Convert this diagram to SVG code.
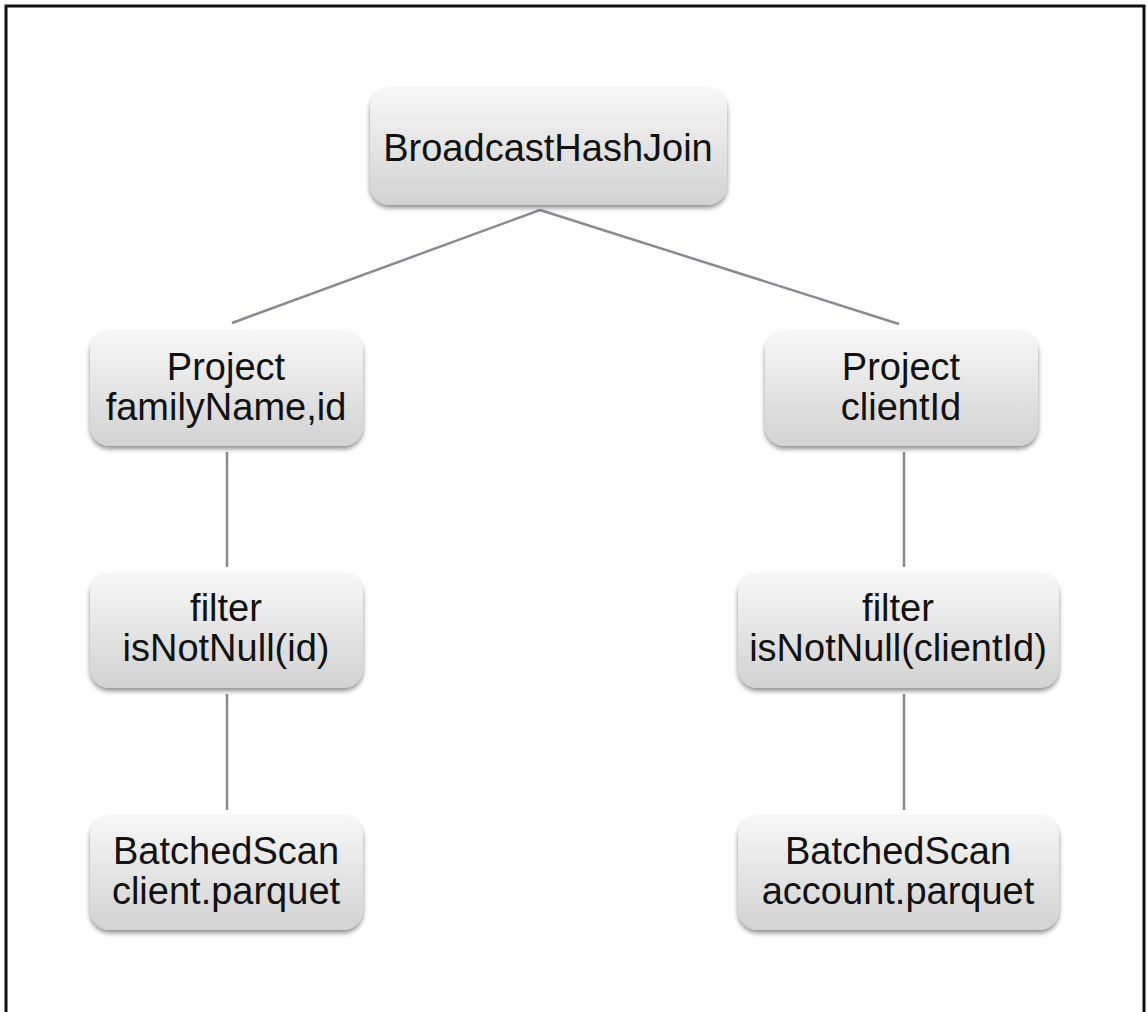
<svg xmlns="http://www.w3.org/2000/svg" width="1147" height="1012" viewBox="0 0 1147 1012">
  <defs>
    <linearGradient id="nodeFill" x1="0" y1="0" x2="0" y2="1">
      <stop offset="0" stop-color="#f7f7f7"/>
      <stop offset="1" stop-color="#d2d2d2"/>
    </linearGradient>
    <filter id="shadow" x="-10%" y="-10%" width="120%" height="130%">
      <feDropShadow dx="0" dy="3" stdDeviation="2.5" flood-color="#000" flood-opacity="0.45"/>
    </filter>
    <style>
      .node rect { fill: url(#nodeFill); filter: url(#shadow); }
      .node text { font-family: "Liberation Sans", Arial, sans-serif; font-size: 38px; fill: #111; text-anchor: middle; }
      .edge { stroke: #8a8b90; stroke-width: 2.5; fill: none; }
      .frame { fill: none; stroke: #111; stroke-width: 3; }
    </style>
  </defs>

  <rect x="0" y="0" width="1147" height="1012" fill="#fff"/>
  <!-- outer frame, bottom edge runs past the canvas -->
  <rect class="frame" x="6" y="6" width="1138" height="1020"/>

  <g id="connectors">
    <line class="edge" x1="540" y1="210" x2="232" y2="323"/>
    <line class="edge" x1="540" y1="210" x2="899" y2="324"/>
    <line class="edge" x1="227" y1="452" x2="227" y2="567"/>
    <line class="edge" x1="227" y1="694" x2="227" y2="810"/>
    <line class="edge" x1="904" y1="452" x2="904" y2="567"/>
    <line class="edge" x1="904" y1="694" x2="904" y2="810"/>
  </g>

  <g id="broadcastHashJoin" class="node">
    <rect x="370" y="88" width="357" height="117" rx="20"/>
    <text x="548" y="161">BroadcastHashJoin</text>
  </g>

  <g id="projectLeft" class="node">
    <rect x="90" y="331" width="273" height="115" rx="20"/>
    <text x="226" y="380">Project</text>
    <text x="226" y="420">familyName,id</text>
  </g>

  <g id="projectRight" class="node">
    <rect x="765" y="331" width="273" height="115" rx="20"/>
    <text x="901" y="380">Project</text>
    <text x="901" y="420">clientId</text>
  </g>

  <g id="filterLeft" class="node">
    <rect x="90" y="573" width="273" height="115" rx="20"/>
    <text x="226" y="621">filter</text>
    <text x="226" y="661">isNotNull(id)</text>
  </g>

  <g id="filterRight" class="node">
    <rect x="738" y="573" width="321" height="115" rx="20"/>
    <text x="898" y="621">filter</text>
    <text x="898" y="661">isNotNull(clientId)</text>
  </g>

  <g id="scanLeft" class="node">
    <rect x="90" y="816" width="273" height="114" rx="20"/>
    <text x="226" y="864">BatchedScan</text>
    <text x="226" y="904">client.parquet</text>
  </g>

  <g id="scanRight" class="node">
    <rect x="738" y="816" width="321" height="114" rx="20"/>
    <text x="898" y="864">BatchedScan</text>
    <text x="898" y="904">account.parquet</text>
  </g>
</svg>
